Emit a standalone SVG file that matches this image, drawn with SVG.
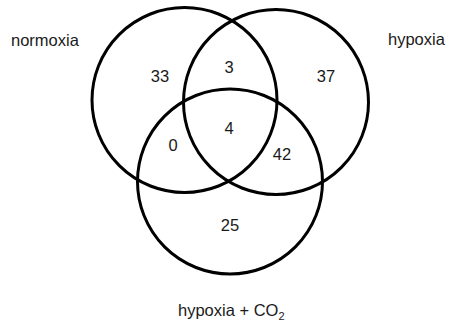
<svg xmlns="http://www.w3.org/2000/svg" width="449" height="325" viewBox="0 0 449 325">
<style>
.c{fill:none;stroke:#000;stroke-width:3}
.t{font-family:"Liberation Sans",Arial,sans-serif;font-size:16.5px;fill:#1a1a1a}
.n{text-anchor:middle}
</style>
<rect width="449" height="325" fill="#fff"/>
<g id="connectors"></g>
<g id="normoxia"><circle class="c" cx="184.5" cy="100" r="92.5"/><text class="t" x="11" y="46">normoxia</text></g>
<g id="hypoxia"><circle class="c" cx="276" cy="102" r="92.5"/><text class="t" x="388" y="45">hypoxia</text></g>
<g id="hypoxia-co2"><circle class="c" cx="230" cy="181.5" r="92.5"/><text class="t" x="178" y="316">hypoxia + CO<tspan font-size="11" dy="4">2</tspan></text></g>
<g id="counts">
<text class="t n" x="160" y="82">33</text>
<text class="t n" x="229" y="73">3</text>
<text class="t n" x="326" y="82">37</text>
<text class="t n" x="229" y="134">4</text>
<text class="t n" x="173" y="151">0</text>
<text class="t n" x="282" y="160">42</text>
<text class="t n" x="230" y="231">25</text>
</g>
</svg>
